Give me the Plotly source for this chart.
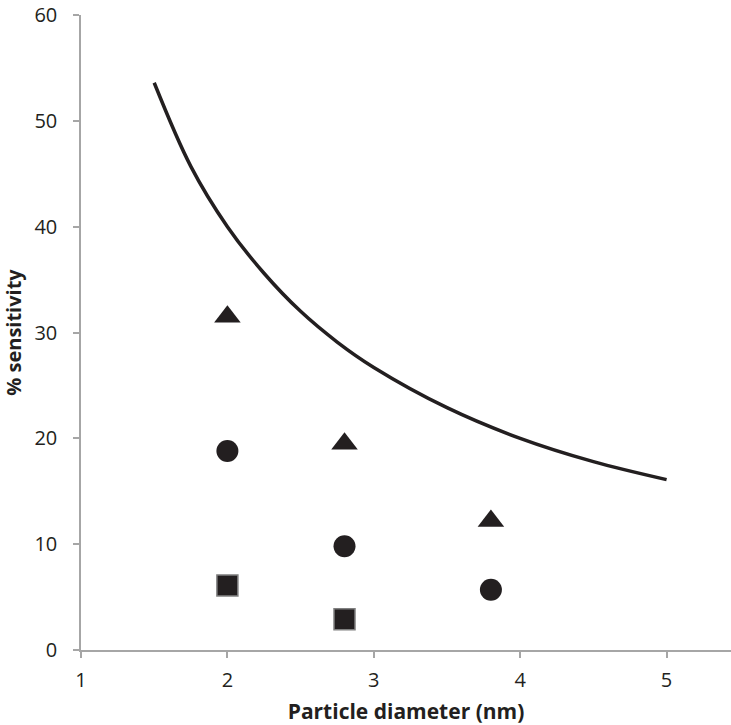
import plotly.graph_objects as go

# Curve
curve_x = [1.5, 1.75, 2.0, 2.25, 2.5, 2.75, 3.0, 3.5, 4.0, 4.5, 5.0]
curve_y = [53.6, 45.7, 40.0, 35.6, 32.0, 29.1, 26.7, 22.9, 20.0, 17.8, 16.1]

tri_x = [2.0, 2.8, 3.8]
tri_y = [31.5, 19.5, 12.2]

circ_x = [2.0, 2.8, 3.8]
circ_y = [18.8, 9.8, 5.7]

sq_x = [2.0, 2.8]
sq_y = [6.1, 2.9]

x_ticks = [1, 2, 3, 4, 5]
y_ticks = [0, 10, 20, 30, 40, 50, 60]

ink = "#231f20"
axis_col = "#a6a6a6"

fig = go.Figure()
fig.add_trace(go.Scatter(x=curve_x, y=curve_y, mode="lines", line=dict(color=ink, width=3.5, shape="spline"), hoverinfo="skip"))
fig.add_trace(go.Scatter(x=tri_x, y=tri_y, mode="markers", marker=dict(symbol="triangle-up", size=23, color=ink, line=dict(width=0))))
fig.add_trace(go.Scatter(x=circ_x, y=circ_y, mode="markers", marker=dict(symbol="circle", size=22, color=ink, line=dict(width=0))))
fig.add_trace(go.Scatter(x=sq_x, y=sq_y, mode="markers", marker=dict(symbol="square", size=21, color=ink, line=dict(width=1.5, color="#808080"))))

font_fam = "Open Sans, Liberation Sans, sans-serif"
fig.update_layout(
    width=731, height=725,
    margin=dict(l=81, r=0, t=15, b=75),
    paper_bgcolor="white", plot_bgcolor="white",
    showlegend=False,
    font=dict(family=font_fam, color="#231f20", size=19),
    xaxis=dict(range=[1, 5.44], tickvals=x_ticks, showgrid=False, zeroline=False,
               showline=True, linecolor=axis_col, linewidth=1.5,
               ticks="outside", ticklen=6, tickcolor=axis_col, tickwidth=1.5,
               ticklabelstandoff=5, tickfont=dict(size=20, color="#231f20"),
               title=dict(text="<b>Particle diameter (nm)</b>", font=dict(size=21), standoff=14)),
    yaxis=dict(range=[0, 60], tickvals=y_ticks, showgrid=False, zeroline=False,
               showline=True, linecolor=axis_col, linewidth=1.5,
               ticks="outside", ticklen=6, tickcolor=axis_col, tickwidth=1.5,
               ticklabelstandoff=12, tickfont=dict(size=20, color="#231f20"),
               title=dict(text="<b>% sensitivity</b>", font=dict(size=20), standoff=12)),
)

fig.write_html("out.html")
